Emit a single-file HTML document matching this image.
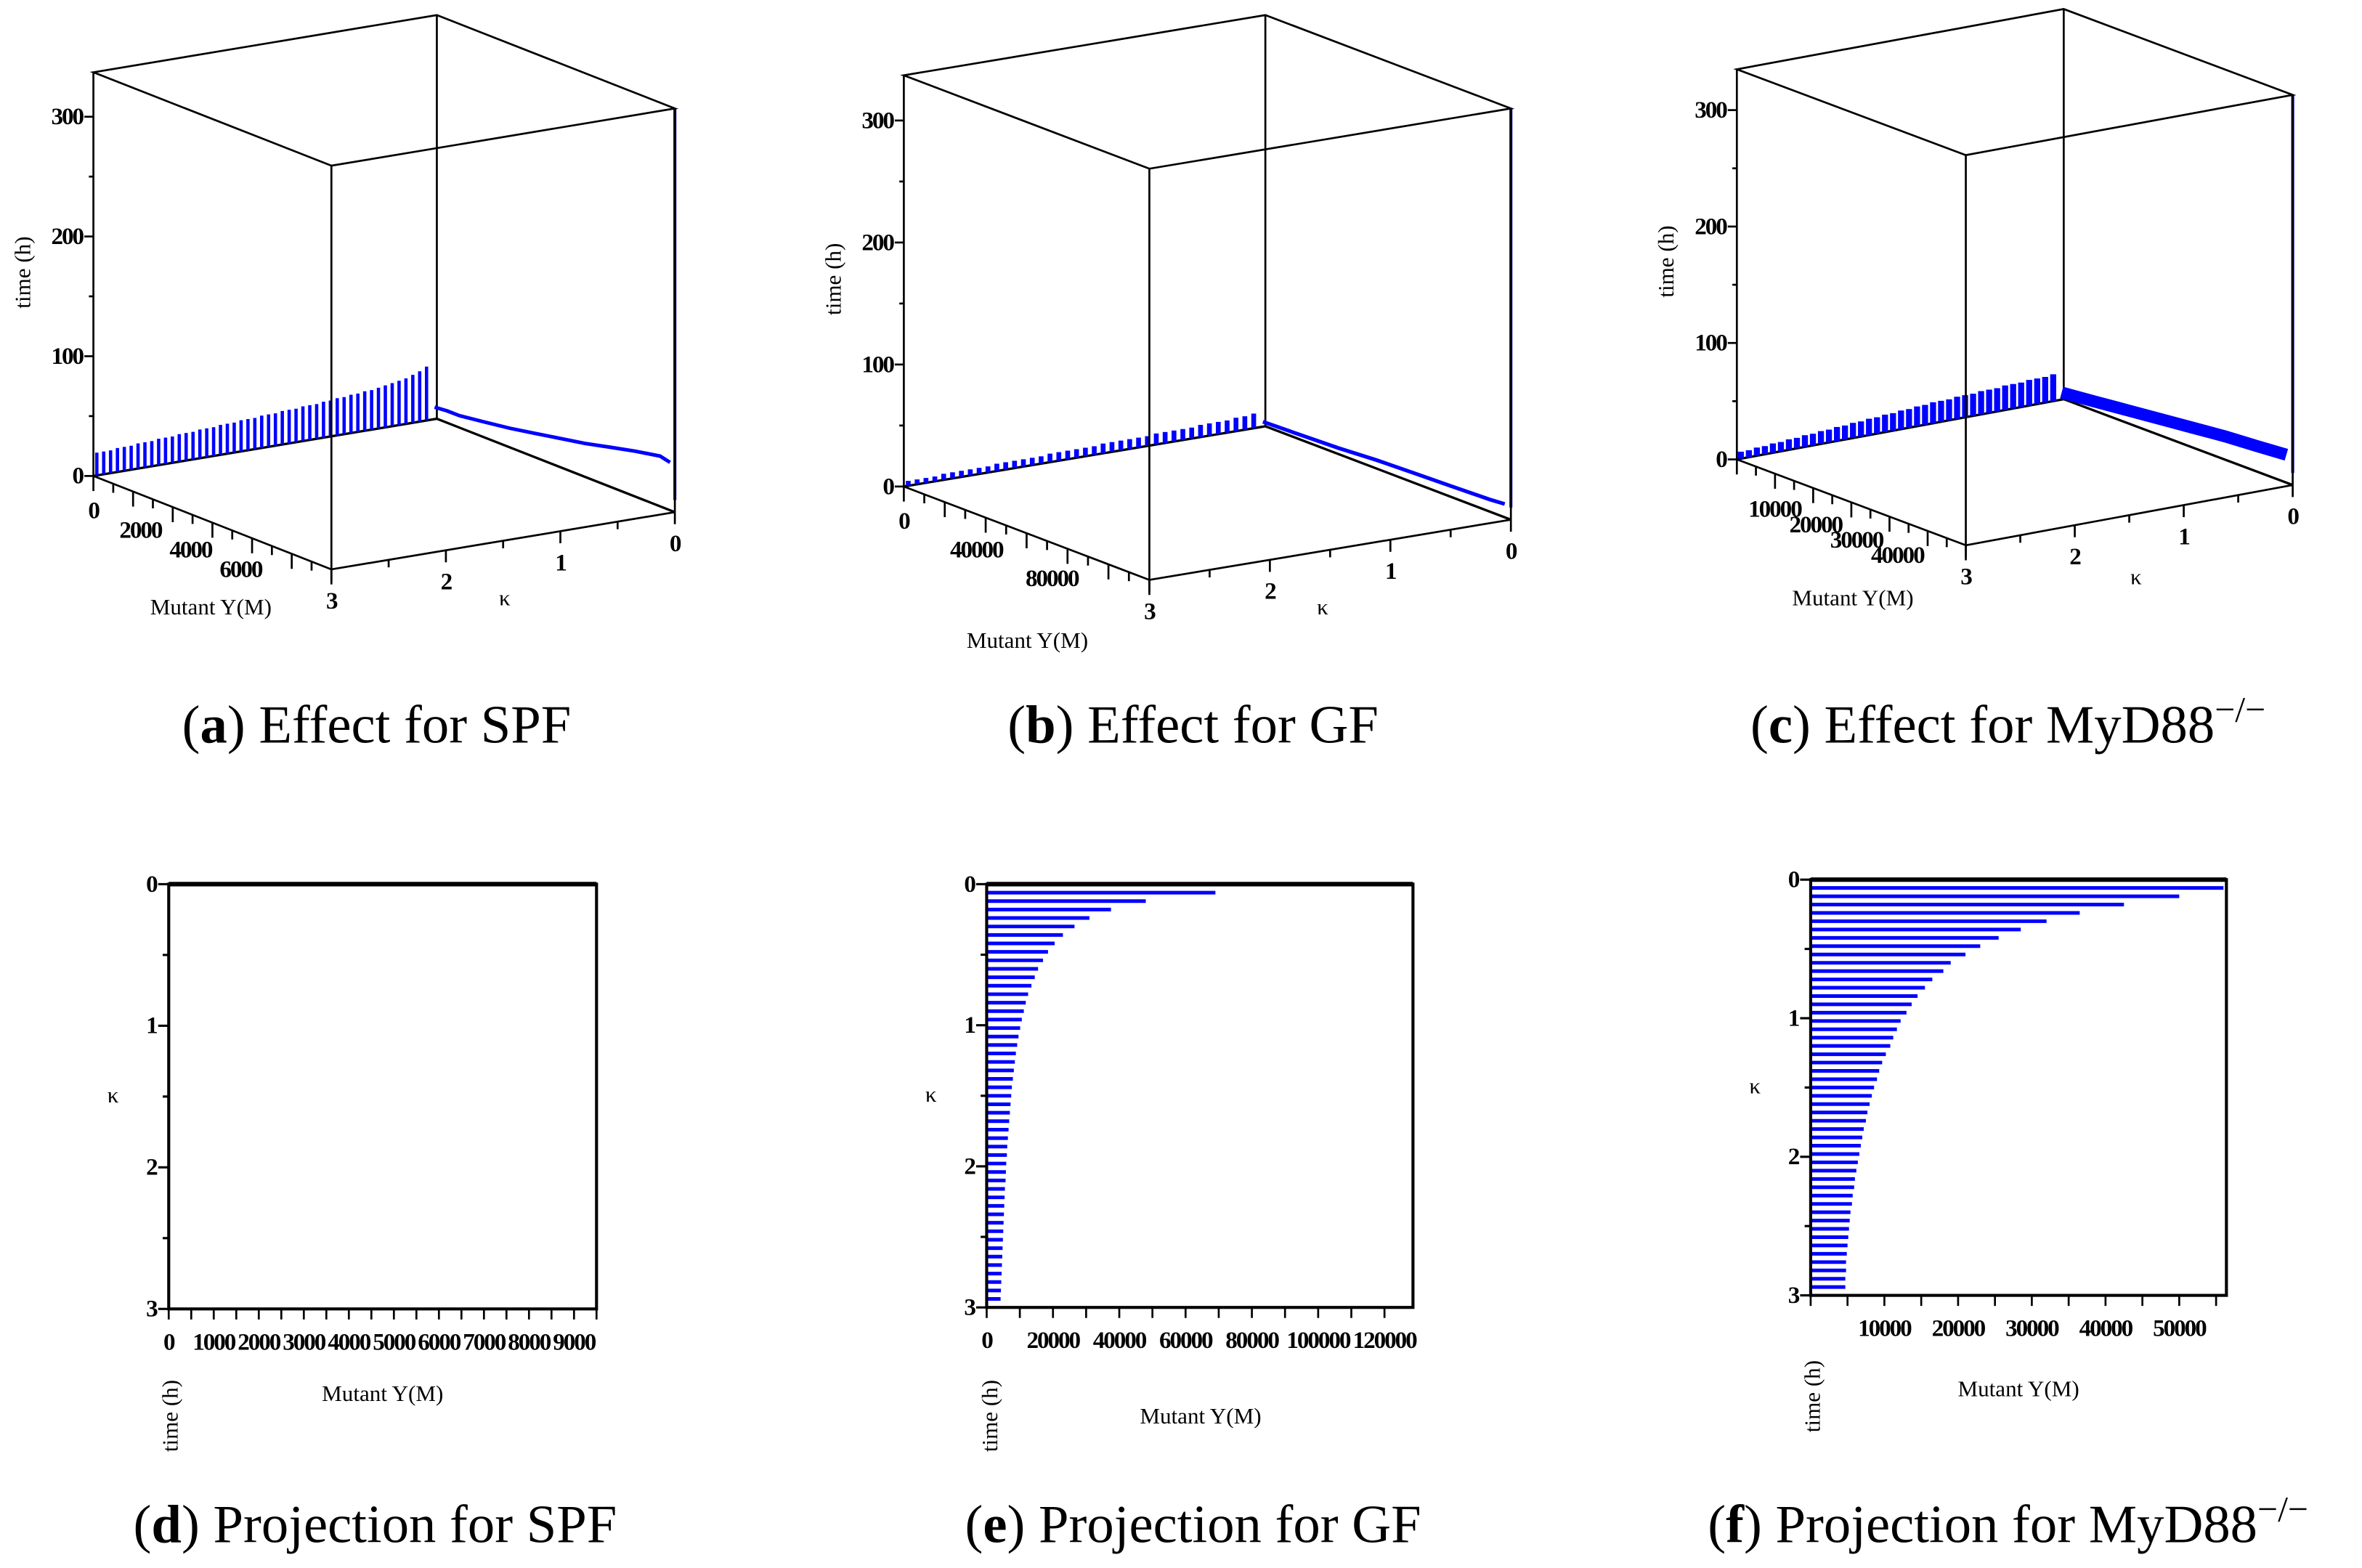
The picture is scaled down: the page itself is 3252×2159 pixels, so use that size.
<!DOCTYPE html>
<html><head><meta charset="utf-8"><style>
html,body{margin:0;padding:0;background:#fff;}
svg{display:block;}
.tk{font-family:"Liberation Serif",serif;font-weight:bold;font-size:16px;letter-spacing:-1px;fill:#000;}
.al{font-family:"Liberation Serif",serif;font-size:15px;fill:#000;}
.cap{font-family:"Liberation Serif",serif;font-size:36px;fill:#000;}
</style></head><body>
<svg id="fig" width="3252" height="2159" viewBox="0 0 1568 1041" xmlns="http://www.w3.org/2000/svg">
<g id="root"></g>
</svg>
<script>
// ---- data ----
const kappaTicks = [0, 1, 2, 3];
const timeTicks = [0, 100, 200, 300];
const barKappa = [];
for (let i = 1; i <= 49; i++) barKappa.push(+(i * 0.06).toFixed(2));
const gfValues = [69000,48000,37500,31000,26500,23000,20500,18500,17000,15500,14500,13500,12500,11800,11200,10600,10100,9600,9200,8800,8500,8200,7900,7600,7400,7200,7000,6800,6600,6400,6200,6100,5900,5800,5700,5500,5400,5300,5200,5100,5000,4900,4800,4700,4600,4500,4400,4300,4200];
const myd88Values = [56000,50000,42500,36500,32000,28500,25500,23000,21000,19000,18000,16500,15500,14500,13700,13000,12200,11700,11200,10800,10200,9700,9300,9000,8600,8300,8000,7700,7500,7200,7000,6800,6600,6400,6200,6000,5900,5700,5600,5400,5300,5200,5100,5000,4900,4800,4800,4700,4700];
const spfXTicks = [0,1000,2000,3000,4000,5000,6000,7000,8000,9000];
const gfXTicks = [0,20000,40000,60000,80000,100000,120000];
const mydXTicks = [10000,20000,30000,40000,50000];
// 3D surfaces: time along kappa edge (Y=0), kappa 3 -> 0.06
const spfEdgeTimes = [19,19,19,20,20,20,21,21,21,22,22,22,23,23,23,24,24,24,25,25,25,26,26,26,27,27,27,28,28,28,29,29,29,30,30,31,31,32,32,33,33,34,35,36,37,38,40,42,45];
const spfCurveY = [0,500,1000,2000,3000,4000,5000,6000,7000,8000,9000,9400];
const spfCurveT = [10,11,11,14,17,21,25,29,34,39,43,41];
const gfEdgeTimes = [4,4,4,4,5,5,5,5,5,5,6,6,6,6,6,6,7,7,7,7,7,7,8,8,8,8,8,8,9,9,9,9,9,10,10,10,10,11,11,12];
const gfCurveY = [0,20000,40000,60000,80000,100000,120000,128000];
const gfCurveT = [4,5,6,8,9,10,11,12];
const mydEdgeTimes = [6,6,7,7,8,8,9,9,10,10,11,11,12,12,13,13,14,14,15,15,16,16,17,17,18,18,18,19,19,19,20,20,20,21,21,21,22,22,22,23];
const mydCurveY = [0,8000,16000,24000,32000,40000,48000,55000];
const mydCurveT = [6,9,12,15,18,21,23,25];

const NS = "http://www.w3.org/2000/svg";
const root = document.getElementById('root');
function mk(tag, attrs, parent, text) {
  const e = document.createElementNS(NS, tag);
  for (const k in attrs) e.setAttribute(k, attrs[k]);
  if (text !== undefined) e.textContent = text;
  (parent || root).appendChild(e);
  return e;
}
function line(g, x1, y1, x2, y2, w, c) { return mk('line', {x1, y1, x2, y2, stroke: c || '#000', 'stroke-width': w || 1.3}, g); }

// ---------- 3D panels ----------
function panel3D(p) {
  const g = mk('g', {});
  
  
  const L = p.left, F = p.front, B = p.back, R = [B[0] + F[0] - L[0], B[1] + F[1] - L[1]];
  const H = p.H;
  const proj = (Y, k, t) => [L[0] + (Y / p.ymax) * (F[0] - L[0]) + ((3 - k) / 3) * (B[0] - L[0]),
                             L[1] + (Y / p.ymax) * (F[1] - L[1]) + ((3 - k) / 3) * (B[1] - L[1]) - t * p.ts];
  line(g, B[0], B[1], B[0], B[1] - H, 1.3);
  line(g, L[0], L[1], B[0], B[1], 1.6); line(g, B[0], B[1], R[0], R[1], 1.6);
  const n = p.edge.length;
  p.edge.forEach((t, i) => {
    const k = 3 - (i + 0.5) * (3 - 0.06) / n;
    const a = proj(0, k, 0), b = proj(0, k, t);
    const bar = line(g, a[0], a[1], b[0], b[1], p.bw, '#0000ff');
    
    
  });
  let d = '';
  p.cy.forEach((Y, i) => { const q = proj(Y, 0.02, p.ct[i]); d += (i ? 'L' : 'M') + q[0].toFixed(1) + ' ' + q[1].toFixed(1); });
  const c = mk('path', {d, fill: 'none', stroke: '#0000ff', 'stroke-width': p.cw}, g);
  
  
  line(g, R[0], R[1] - 8, R[0], R[1] - H, 2, '#0000cc');
  line(g, L[0], L[1], F[0], F[1]); line(g, F[0], F[1], R[0], R[1]);
  line(g, L[0], L[1], L[0], L[1] - H); line(g, F[0], F[1], F[0], F[1] - H); line(g, R[0], R[1], R[0], R[1] - H);
  mk('polygon', {points: [[L[0], L[1] - H], [B[0], B[1] - H], [R[0], R[1] - H], [F[0], F[1] - H]].join(' '), fill: 'none', stroke: '#000', 'stroke-width': 1.3}, g);
  timeTicks.forEach(t => {
    const y = L[1] - t * p.ts;
    line(g, L[0] - 6, y, L[0], y);
    mk('text', {x: L[0] - 7, y: y + 5, 'text-anchor': 'end', class: 'tk'}, g, t);
    if (t < 300) line(g, L[0] - 3, y - 50 * p.ts, L[0], y - 50 * p.ts);
  });
  const ty = L[1] - 170 * p.ts;
  mk('text', {x: 0, y: 0, class: 'al', 'text-anchor': 'middle', transform: `translate(${L[0] - 42},${ty}) rotate(-90)`}, g, 'time (h)');
  kappaTicks.forEach(k => {
    const x = F[0] + ((3 - k) / 3) * (R[0] - F[0]), y = F[1] + ((3 - k) / 3) * (R[1] - F[1]);
    line(g, x, y, x, y + 8);
    mk('text', {x: x, y: y + 26, 'text-anchor': 'middle', class: 'tk'}, g, k);
    if (k > 0) { const x2 = x + (R[0] - F[0]) / 6, y2 = y + (R[1] - F[1]) / 6; line(g, x2, y2, x2, y2 + 5); }
  });
  mk('text', {x: p.kl[0], y: p.kl[1], class: 'al', 'text-anchor': 'middle'}, g, 'κ');
  const nt = 12;
  for (let i = 0; i <= nt; i++) { const x = L[0] + i / nt * (F[0] - L[0]), y = L[1] + i / nt * (F[1] - L[1]); line(g, x, y, x, y + (i % 2 ? 6 : 10)); }
  p.ylabels.forEach(v => {
    const x = L[0] + v / p.ymax * (F[0] - L[0]), y = L[1] + v / p.ymax * (F[1] - L[1]);
    mk('text', {x: x - (v ? 2 : 0), y: y + 28, 'text-anchor': 'middle', class: 'tk'}, g, v);
  });
  mk('text', {x: p.ml[0], y: p.ml[1], class: 'al', 'text-anchor': 'middle'}, g, 'Mutant Y(M)');
}
panel3D({name:'plot-a-spf-3d', left:[62,316], front:[220,378], back:[290,278], ts:0.795, H:268, ymax:9500, ylabels:[0,2000,4000,6000], edge:spfEdgeTimes, bw:2.2, cy:spfCurveY, ct:spfCurveT, cw:2.4, kl:[335,402], ml:[140,408]});
panel3D({name:'plot-b-gf-3d', left:[600,323], front:[763,385], back:[840,283], ts:0.81, H:273, ymax:130000, ylabels:[0,40000,80000], edge:gfEdgeTimes, bw:3.2, cy:gfCurveY, ct:gfCurveT, cw:2.5, kl:[878,408], ml:[682,430]});
panel3D({name:'plot-c-myd88-3d', left:[1153,305], front:[1305,362], back:[1370,265], ts:0.773, H:259, ymax:56000, ylabels:[10000,20000,30000,40000], edge:mydEdgeTimes, bw:4, cy:mydCurveY, ct:mydCurveT, cw:8, kl:[1418,388], ml:[1230,402]});

// ---------- 2D projections ----------
function panel2D(p) {
  const g = mk('g', {});
  
  
  const xs = v => p.x0 + v / p.xmax * (p.x1 - p.x0);
  const ys = k => p.y0 + k / 3 * (p.y1 - p.y0);
  if (p.vals) p.vals.forEach((v, i) => {
    const y = ys(barKappa[i]);
    const b = line(g, p.x0, y, xs(v), y, 2.4, '#0000ff');
    
    
  });
  mk('rect', {x: p.x0, y: p.y0, width: p.x1 - p.x0, height: p.y1 - p.y0, fill: 'none', stroke: '#000', 'stroke-width': 2}, g);
  line(g, p.x0, p.y0, p.x1, p.y0, 3);
  kappaTicks.forEach(k => {
    const y = ys(k);
    line(g, p.x0 - 7, y, p.x0, y, 1.5);
    mk('text', {x: p.x0 - 8, y: y + 5, 'text-anchor': 'end', class: 'tk'}, g, k);
    if (k < 3) line(g, p.x0 - 4, y + (p.y1 - p.y0) / 6, p.x0, y + (p.y1 - p.y0) / 6, 1.5);
  });
  mk('text', {x: p.x0 - 37, y: ys(1.5) + 4, class: 'al', 'text-anchor': 'middle'}, g, 'κ');
  const step = p.ticks.length > 1 ? (p.ticks[1] - p.ticks[0]) / 2 : 0;
  for (let v = 0; v <= p.xmax; v += step) line(g, xs(v), p.y1, xs(v), p.y1 + 7, 1.3);
  p.ticks.forEach(v => mk('text', {x: xs(v), y: p.y1 + p.lblDy, 'text-anchor': 'middle', class: 'tk', 'font-size': p.fs}, g, v));
  mk('text', {x: p.ml[0], y: p.ml[1], class: 'al', 'text-anchor': 'middle'}, g, 'Mutant Y(M)');
  mk('text', {x: 0, y: 0, class: 'al', 'text-anchor': 'middle', transform: `translate(${p.tl[0]},${p.tl[1]}) rotate(-90)`}, g, 'time (h)');
}
panel2D({name:'plot-d-spf-projection', x0:112, x1:396, y0:587, y1:869, xmax:9500, ticks:spfXTicks, lblDy:27, fs:17, vals:null, ml:[254,930], tl:[118,940]});
panel2D({name:'plot-e-gf-projection', x0:655, x1:938, y0:587, y1:868, xmax:128600, ticks:gfXTicks, lblDy:27, fs:17, vals:gfValues, ml:[797,945], tl:[662,940]});
panel2D({name:'plot-f-myd88-projection', x0:1202, x1:1478, y0:584, y1:860, xmax:56400, ticks:mydXTicks, lblDy:27, fs:17, vals:myd88Values, ml:[1340,927], tl:[1208,927]});

// ---------- captions ----------
function cap(x, y, letter, rest, sup, name) {
  const t = mk('text', {x, y, class: 'cap', 'text-anchor': 'middle'});
  
  
  mk('tspan', {}, t, '(');
  mk('tspan', {'font-weight': 'bold'}, t, letter);
  mk('tspan', {}, t, ') ' + rest);
  if (sup) mk('tspan', {dy: -14, 'font-size': 24}, t, '−/−');
}
cap(250, 493, 'a', 'Effect for SPF', false, 'caption-a');
cap(792, 493, 'b', 'Effect for GF', false, 'caption-b');
cap(1333, 493, 'c', 'Effect for MyD88', true, 'caption-c');
cap(249, 1024, 'd', 'Projection for SPF', false, 'caption-d');
cap(792, 1024, 'e', 'Projection for GF', false, 'caption-e');
cap(1333, 1024, 'f', 'Projection for MyD88', true, 'caption-f');
</script>
</body></html>
